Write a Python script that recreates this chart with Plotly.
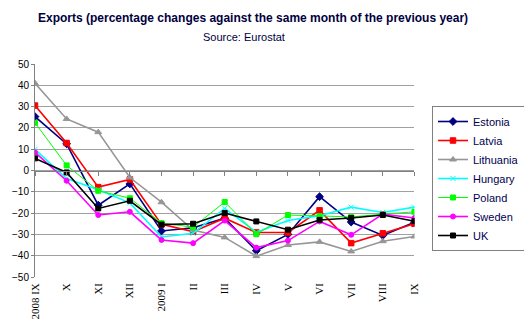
import plotly.graph_objects as go

months = ["2008 IX", "X", "XI", "XII", "2009 I", "II", "III", "IV", "V", "VI", "VII", "VIII", "IX"]
estonia = [25.3, 12.5, -16.3, -6.3, -28.4, -26.9, -22.4, -37.7, -30.0, -12.3, -24.2, -30.5, -24.3]
latvia = [30.5, 12.9, -7.8, -4.2, -25.3, -28.7, -22.4, -29.1, -29.1, -18.7, -34.1, -29.5, -25.0]
lithuania = [41.0, 24.2, 18.0, -3.3, -14.9, -28.0, -31.4, -40.2, -35.0, -33.5, -38.0, -33.2, -31.0]
hungary = [9.9, -3.8, -9.0, -15.2, -31.2, -29.5, -17.8, -29.0, -23.5, -21.2, -17.2, -19.7, -17.2]
poland = [22.4, 2.4, -9.5, -13.0, -24.7, -26.6, -14.8, -29.9, -20.9, -21.5, -21.8, -20.5, -19.4]
sweden = [8.5, -4.8, -20.9, -19.4, -32.6, -34.1, -23.5, -36.2, -32.9, -23.9, -30.2, -20.5, -22.3]
uk = [5.7, -0.9, -17.8, -14.2, -25.4, -25.0, -20.0, -23.9, -27.8, -23.2, -22.3, -20.9, -23.8]
y_ticks = [50, 40, 30, 20, 10, 0, -10, -20, -30, -40, -50]

series = [
    ("Estonia", estonia, "#000080", "diamond", 6, 1.6),
    ("Latvia", latvia, "#FF0000", "square", 5.5, 1.6),
    ("Lithuania", lithuania, "#969696", "triangle-up", 6, 1.6),
    ("Hungary", hungary, "#00FFFF", "x-thin-open", 5, 1.6),
    ("Poland", poland, "#00FF00", "square", 5, 1.0),
    ("Sweden", sweden, "#FF00FF", "circle", 5, 1.6),
    ("UK", uk, "#000000", "square", 5, 1.6),
]

idx = list(range(len(months)))
fig = go.Figure()
for name, vals, col, sym, sz, lw in series:
    fig.add_trace(go.Scatter(
        x=idx, y=vals, name=name, mode="lines+markers",
        line=dict(color=col, width=lw),
        marker=dict(symbol=sym, size=sz, color=col, line=dict(color=col, width=1)),
    ))

# invisible trace for the category axis drawn through zero
fig.add_trace(go.Scatter(x=idx, y=[0] * len(idx), xaxis="x2", mode="lines",
                         line=dict(width=0), showlegend=False, hoverinfo="skip"))

fig.update_layout(
    width=524, height=332,
    margin=dict(l=20.7, r=104, t=64.3, b=44.7),
    paper_bgcolor="white", plot_bgcolor="white",
    showlegend=True,
    xaxis=dict(
        range=[0, 12], tickmode="array", tickvals=idx, ticktext=months,
        tickangle=-90, showgrid=False, zeroline=False, showline=False,
        ticks="", tickfont=dict(family="Liberation Serif", size=11, color="#000000"),
        ticklabelstandoff=3,
    ),
    xaxis2=dict(
        overlaying="x", anchor="free", position=0.5, range=[0, 12],
        tickmode="array", tickvals=idx, showticklabels=False,
        ticks="outside", ticklen=4, tickcolor="#808080", tickwidth=1,
        showline=True, linecolor="#808080", linewidth=1, showgrid=False, zeroline=False,
    ),
    yaxis=dict(
        range=[-50, 50], tickmode="array", tickvals=y_ticks,
        showgrid=True, gridcolor="#a0a0a0", gridwidth=1, zeroline=False,
        showline=True, linecolor="#808080", linewidth=1,
        ticks="outside", ticklen=3, tickcolor="#808080",
        tickfont=dict(family="Liberation Sans", size=10, color="#000000"),
    ),
    legend=dict(
        xref="container", yref="container", x=432 / 524, y=1 - 106 / 332,
        xanchor="left", yanchor="top",
        bordercolor="#808080", borderwidth=1, bgcolor="white",
        font=dict(family="Liberation Sans", size=11, color="#000050"),
        itemwidth=30, tracegroupgap=0,
    ),
)

fig.add_annotation(
    text="<b>Exports (percentage changes against the same month of the previous year)</b>",
    xref="paper", yref="paper", x=(250 - 20.7) / 399.3, y=(287.3 - 16) / 223,
    xanchor="center", yanchor="middle", showarrow=False,
    font=dict(family="Liberation Sans", size=12, color="#000040"),
)
fig.add_annotation(
    text="Source: Eurostat",
    xref="paper", yref="paper", x=(240.5 - 20.7) / 399.3, y=(287.3 - 36) / 223,
    xanchor="center", yanchor="middle", showarrow=False,
    font=dict(family="Liberation Sans", size=11, color="#000040"),
)

fig.write_html("out.html")
